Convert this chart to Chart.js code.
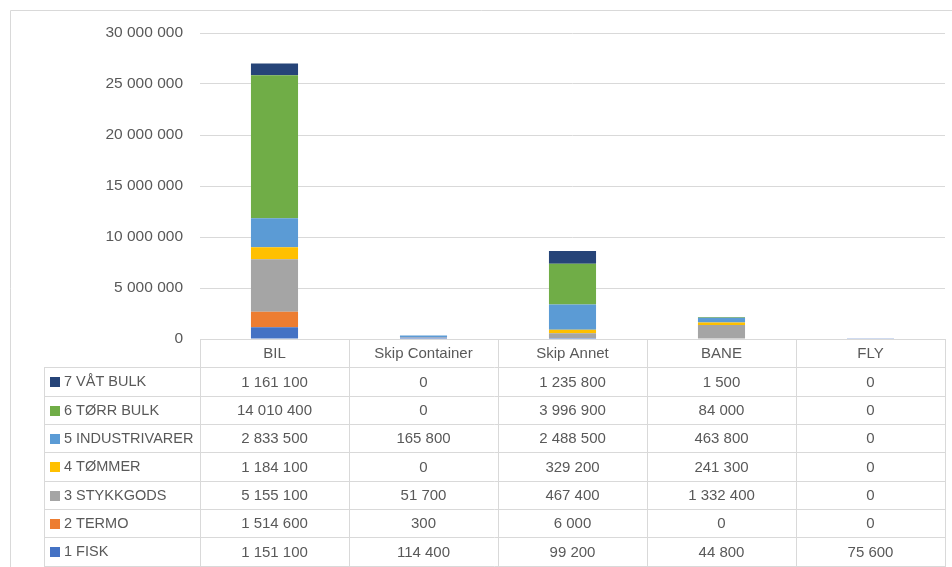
<!DOCTYPE html>
<html>
<head>
<meta charset="utf-8">
<script src="https://cdn.jsdelivr.net/npm/chart.js@4.4.1/dist/chart.umd.min.js"></script>
<style>
  html, body { margin: 0; padding: 0; background: #ffffff; }
  #wrap { width: 952px; height: 567px; position: relative; }
</style>
</head>
<body>
<div id="wrap"><canvas id="c" width="952" height="567"></canvas></div>
<script>
// Transport modes along the x axis
const categories = ['BIL', 'Skip Container', 'Skip Annet', 'BANE', 'FLY'];

// Goods groups (stacked bottom to top)
const seriesNames = ['1 FISK', '2 TERMO', '3 STYKKGODS', '4 TØMMER', '5 INDUSTRIVARER', '6 TØRR BULK', '7 VÅT BULK'];

// Tonnes per goods group and transport mode
const fisk          = [1151100, 114400, 99200, 44800, 75600];
const termo         = [1514600, 300, 6000, 0, 0];
const stykkgods     = [5155100, 51700, 467400, 1332400, 0];
const tommer        = [1184100, 0, 329200, 241300, 0];
const industrivarer = [2833500, 165800, 2488500, 463800, 0];
const torrBulk      = [14010400, 0, 3996900, 84000, 0];
const vatBulk       = [1161100, 0, 1235800, 1500, 0];

// Value axis ticks
const yTicks = [0, 5000000, 10000000, 15000000, 20000000, 25000000, 30000000];

const seriesValues = [fisk, termo, stykkgods, tommer, industrivarer, torrBulk, vatBulk];
const seriesColors = ['#4472C4', '#ED7D31', '#A5A5A5', '#FFC000', '#5B9BD5', '#70AD47', '#264478'];

const TEXT = '#595959';
const LINE = '#D9D9D9';
const FONT = '"Liberation Sans", Arial, sans-serif';

function fmt(v) {
  return String(v).replace(/\B(?=(\d{3})+(?!\d))/g, ' ');
}

// Outer frame and the data table under the plot
const tablePlugin = {
  id: 'dataTable',
  afterDraw(chart) {
    const ctx = chart.ctx;
    const area = chart.chartArea;
    const xs = chart.scales.x;
    const n = categories.length;
    const colW = (area.right - area.left) / n;
    const rowH = 28.33;
    const top = area.bottom;
    const rows = seriesNames.length;
    const bottom = top + rowH * (rows + 1);
    const leftCol = 44;

    ctx.save();
    // frame
    ctx.strokeStyle = LINE;
    ctx.lineWidth = 1;
    ctx.beginPath();
    ctx.moveTo(10.5, 567);
    ctx.lineTo(10.5, 10.5);
    ctx.lineTo(952, 10.5);
    ctx.stroke();

    // table grid
    ctx.beginPath();
    for (let i = 0; i <= rows + 1; i++) {
      const y = Math.round(top + i * rowH) + 0.5;
      ctx.moveTo(i === 0 ? area.left : leftCol, y);
      ctx.lineTo(area.right, y);
    }
    ctx.moveTo(leftCol + 0.5, Math.round(top + rowH));
    ctx.lineTo(leftCol + 0.5, Math.round(bottom) + 1);
    for (let c = 0; c <= n; c++) {
      const x = Math.round(area.left + c * colW) + 0.5;
      ctx.moveTo(x, top);
      ctx.lineTo(x, Math.round(bottom) + 1);
    }
    ctx.stroke();

    // header row: category names
    ctx.fillStyle = TEXT;
    ctx.textBaseline = 'middle';
    ctx.textAlign = 'center';
    ctx.font = '15px ' + FONT;
    categories.forEach((cat, i) => {
      const cx = xs.getPixelForValue(i);
      ctx.fillText(cat, cx, top + rowH / 2 + 1);
    });

    // series rows, top row is the top of the stack
    for (let r = 0; r < rows; r++) {
      const s = rows - 1 - r;
      const cy = top + rowH * (r + 1) + rowH / 2 + 1;
      ctx.fillStyle = seriesColors[s];
      ctx.fillRect(50, Math.round(cy - 5), 10, 10);
      ctx.fillStyle = TEXT;
      ctx.textAlign = 'left';
      ctx.font = '14.5px ' + FONT;
      ctx.fillText(seriesNames[s], 64, cy);
      ctx.textAlign = 'center';
      ctx.font = '15px ' + FONT;
      seriesValues[s].forEach((v, i) => {
        ctx.fillText(fmt(v), xs.getPixelForValue(i), cy);
      });
    }
    ctx.restore();
  }
};

new Chart(document.getElementById('c'), {
  type: 'bar',
  data: {
    labels: categories,
    datasets: seriesNames.map((name, i) => ({
      label: name,
      data: seriesValues[i],
      backgroundColor: seriesColors[i],
      borderWidth: 0,
      categoryPercentage: 1,
      barPercentage: 0.316
    }))
  },
  options: {
    responsive: false,
    animation: false,
    layout: { padding: { left: 10, right: 7, top: 33, bottom: 228 } },
    plugins: {
      legend: { display: false },
      tooltip: { enabled: false }
    },
    scales: {
      x: {
        stacked: true,
        display: false
      },
      y: {
        stacked: true,
        min: 0,
        max: 30000000,
        afterFit(scale) { scale.width = 190; },
        afterBuildTicks(scale) { scale.ticks = yTicks.map(v => ({ value: v })); },
        border: { display: false },
        grid: { color: LINE, lineWidth: 1, drawTicks: false },
        ticks: {
          padding: 17,
          color: TEXT,
          font: { family: FONT, size: 15.5 },
          callback: (v) => fmt(v)
        }
      }
    }
  },
  plugins: [tablePlugin]
});
</script>
</body>
</html>
